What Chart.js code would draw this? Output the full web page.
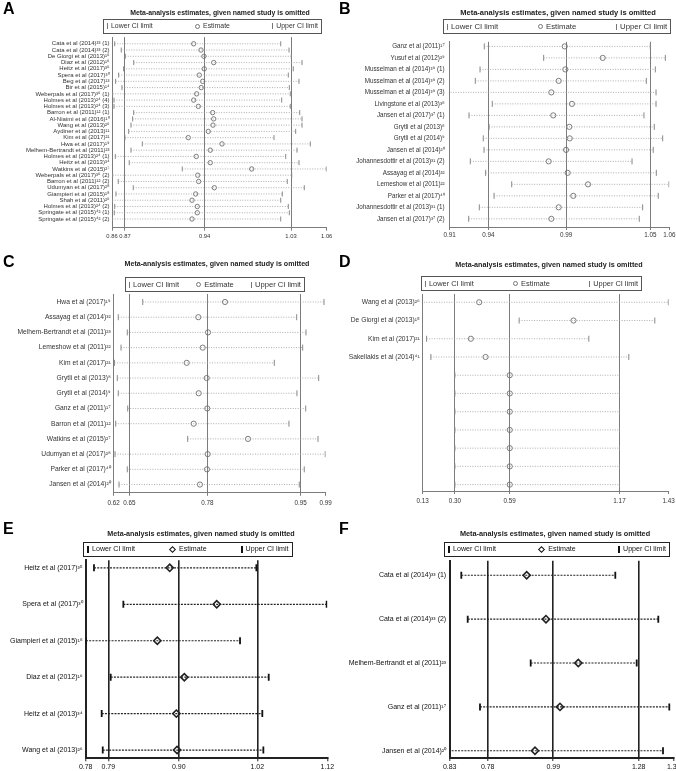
<!DOCTYPE html>
<html>
<head>
<meta charset="utf-8">
<script src="https://cdn.jsdelivr.net/npm/chart.js@4.4.1/dist/chart.umd.min.js"></script>
<style>
  body { margin: 0; background: #fff; }
  #page { position: relative; width: 676px; height: 771px; overflow: hidden; font-family: "Liberation Sans", Arial, sans-serif; }
  .letter { position: absolute; font-weight: bold; font-size: 16px; line-height: 1; color: #000; will-change: transform; }
  .title { position: absolute; width: 300px; text-align: center; font-weight: bold; line-height: 1; color: #222; white-space: nowrap; will-change: transform; }
  .legend { position: absolute; box-sizing: border-box; border: 1px solid #555; display: grid; grid-template-columns: 1fr 1fr 1fr; align-items: center; padding: 0 3px; color: #333; line-height: 1; white-space: nowrap; will-change: transform; }
  .legend .item:nth-child(1) { justify-self: start; }
  .legend .item:nth-child(2) { justify-self: center; }
  .legend .item:nth-child(3) { justify-self: end; }
  .key { display: inline-block; vertical-align: middle; margin-right: 3px; box-sizing: border-box; }
  .grey .bar { width: 1px; height: 6px; background: #777; }
  .grey .dot { width: 5px; height: 5px; border: 1px solid #777; border-radius: 50%; }
  .bold .bar { width: 2px; height: 7px; background: #111; }
  .bold .dot { width: 5px; height: 5px; border: 1.5px solid #111; transform: rotate(45deg); margin-left: 1px; margin-right: 4px; }
  .bold { color: #111; border-color: #222; }
  canvas { position: absolute; }
</style>
</head>
<body>
<div id="page"></div>
<script>
// ---- data: panel A ----
const studiesA = ['Cata et al (2014)³³ (1)', 'Cata et al (2014)³³ (2)', 'De Giorgi et al (2013)¹⁵', 'Diaz et al (2012)¹⁶',
  'Heitz et al (2017)³⁵', 'Spera et al (2017)³⁰', 'Beg et al (2017)¹³', 'Bir et al (2015)¹⁴',
  'Weberpals et al (2017)³⁶ (1)', 'Holmes et al (2013)²⁴ (4)', 'Holmes et al (2013)²⁴ (3)', 'Barron et al (2011)¹² (1)',
  'Al-Niaimi et al (2016)¹⁰', 'Wang et al (2013)²⁶', 'Aydiner et al (2013)¹¹', 'Kim et al (2017)²¹',
  'Hwa et al (2017)¹⁹', 'Melhem-Bertrandt et al (2011)²³', 'Holmes et al (2013)²⁴ (1)', 'Heitz et al (2013)³⁴',
  'Watkins et al (2015)²⁷', 'Weberpals et al (2017)³⁶ (2)', 'Barron et al (2011)¹² (2)', 'Udumyan et al (2017)²⁸',
  'Giampieri et al (2015)¹⁸', 'Shah et al (2011)²⁵', 'Holmes et al (2013)²⁴ (2)', 'Springate et al (2015)⁴² (1)',
  'Springate et al (2015)⁴² (2)'];
const lowerA = [0.8621, 0.8684, 0.8723, 0.8804, 0.8707, 0.8659, 0.8630, 0.8691, 0.8601, 0.8614, 0.8614, 0.8804,
  0.8794, 0.8778, 0.8756, 0.8720, 0.8887, 0.8778, 0.8627, 0.8761, 0.9272, 0.8601, 0.8655, 0.8800, 0.8633, 0.8598,
  0.8621, 0.8617, 0.8598];
const estimateA = [0.9382, 0.9453, 0.9481, 0.9575, 0.9484, 0.9436, 0.9469, 0.9455, 0.9411, 0.9382, 0.9427, 0.9565,
  0.9575, 0.9568, 0.9523, 0.9330, 0.9655, 0.9542, 0.9407, 0.9542, 0.9941, 0.9421, 0.9430, 0.9581, 0.9401, 0.9366,
  0.9417, 0.9417, 0.9366];
const upperA = [1.0221, 1.0301, 1.0323, 1.0426, 1.0342, 1.0294, 1.0397, 1.0304, 1.0313, 1.0230, 1.0313, 1.0404,
  1.0426, 1.0426, 1.0365, 1.0156, 1.0506, 1.0378, 1.0269, 1.0397, 1.0660, 1.0327, 1.0284, 1.0448, 1.0236, 1.0221,
  1.0294, 1.0304, 1.0221];
const xTicksA = [0.8595, 0.872, 0.9488, 1.032, 1.0664];
const xLabelsA = ['0.86', '0.87', '0.94', '1.03', '1.06'];

// ---- panel B ----
const studiesB = ['Ganz et al (2011)¹⁷', 'Yusuf et al (2012)²⁹', 'Musselman et al (2014)³⁹ (1)', 'Musselman et al (2014)³⁹ (2)',
  'Musselman et al (2014)³⁹ (3)', 'Livingstone et al (2013)³⁸', 'Jansen et al (2017)³⁷ (1)', 'Grytli et al (2013)⁸',
  'Grytli et al (2014)⁹', 'Jansen et al (2014)²⁰', 'Johannesdottir et al (2013)³¹ (2)', 'Assayag et al (2014)³²',
  'Lemeshow et al (2011)²²', 'Parker et al (2017)⁴⁰', 'Johannesdottir et al (2013)³¹ (1)', 'Jansen et al (2017)³⁷ (2)'];
const lowerB = [0.9373, 0.9776, 0.9344, 0.9312, 0.9110, 0.9427, 0.9269, 0.9405, 0.9366, 0.9371, 0.9278, 0.9382,
  0.9559, 0.9439, 0.9339, 0.9267];
const estimateB = [0.9919, 1.0177, 0.9923, 0.9878, 0.9828, 0.9968, 0.9841, 0.9950, 0.9953, 0.9928, 0.9810, 0.9939,
  1.0077, 0.9977, 0.9878, 0.9828];
const upperB = [1.0500, 1.0602, 1.0534, 1.0473, 1.0539, 1.0539, 1.0457, 1.0527, 1.0584, 1.0520, 1.0376, 1.0541,
  1.0627, 1.0554, 1.0448, 1.0425];
const xTicksB = [0.9138, 0.94, 0.9928, 1.05, 1.0629];
const xLabelsB = ['0.91', '0.94', '0.99', '1.05', '1.06'];

// ---- panel C ----
const studiesC = ['Hwa et al (2017)¹⁹', 'Assayag et al (2014)³²', 'Melhem-Bertrandt et al (2011)²³', 'Lemeshow et al (2011)²²',
  'Kim et al (2017)²¹', 'Grytli et al (2013)⁸', 'Grytli et al (2014)⁹', 'Ganz et al (2011)¹⁷', 'Barron et al (2011)¹²',
  'Watkins et al (2015)²⁷', 'Udumyan et al (2017)²⁸', 'Parker et al (2017)⁴⁰', 'Jansen et al (2014)²⁰'];
const lowerC = [0.6735, 0.6307, 0.6465, 0.6355, 0.6240, 0.6290, 0.6307, 0.6472, 0.6262, 0.7522, 0.6250, 0.6465, 0.6320];
const estimateC = [0.8175, 0.7708, 0.7878, 0.7785, 0.7505, 0.7855, 0.7715, 0.7865, 0.7627, 0.8578, 0.7872, 0.7860, 0.7737];
const upperC = [0.9908, 0.9430, 0.9593, 0.9535, 0.9038, 0.9815, 0.9435, 0.9588, 0.9295, 0.9803, 0.9930, 0.9563, 0.9475];
const xTicksC = [0.6227, 0.65, 0.7865, 0.95, 0.9938];
const xLabelsC = ['0.62', '0.65', '0.78', '0.95', '0.99'];

// ---- panel D ----
const studiesD = ['Wang et al (2013)²⁶', 'De Giorgi et al (2013)¹⁵', 'Kim et al (2017)²¹', 'Sakellakis et al (2014)⁴¹',
  '', '', '', '', '', '', ''];
const lowerD = [0.11, 0.6397, 0.1505, 0.1732, 0.30, 0.30, 0.30, 0.30, 0.30, 0.30, 0.30];
const estimateD = [0.4284, 0.9270, 0.3845, 0.4622, 0.59, 0.59, 0.59, 0.59, 0.59, 0.59, 0.59];
const upperD = [1.428, 1.3565, 1.0079, 1.2192, 1.17, 1.17, 1.17, 1.17, 1.17, 1.17, 1.17];
const xTicksD = [0.13, 0.30, 0.59, 1.17, 1.43];
const xLabelsD = ['0.13', '0.30', '0.59', '1.17', '1.43'];

// ---- panel E ----
const studiesE = ['Heitz et al (2017)³⁵', 'Spera et al (2017)³⁰', 'Giampieri et al (2015)¹⁸', 'Diaz et al (2012)¹⁶',
  'Heitz et al (2013)³⁴', 'Wang et al (2013)²⁶'];
const lowerE = [0.7679, 0.8132, 0.7555, 0.7937, 0.7798, 0.7814];
const estimateE = [0.8848, 0.9573, 0.8656, 0.9073, 0.8950, 0.8961];
const upperE = [1.0185, 1.1270, 0.9933, 1.0376, 1.0277, 1.0293];
const xTicksE = [0.7551, 0.79, 0.8987, 1.02, 1.128];
const xLabelsE = ['0.78', '0.79', '0.90', '1.02', '1.12'];

// ---- panel F ----
const studiesF = ['Cata et al (2014)³³ (1)', 'Cata et al (2014)³³ (2)', 'Melhem-Bertrandt et al (2011)²³',
  'Ganz et al (2011)¹⁷', 'Jansen et al (2014)²⁰'];
const lowerF = [0.6926, 0.7138, 0.9224, 0.7545, 0.6500];
const estimateF = [0.9091, 0.9730, 1.0800, 1.0194, 0.9366];
const upperF = [1.2025, 1.3449, 1.2734, 1.3813, 1.3605];
const xTicksF = [0.6542, 0.78, 0.997, 1.28, 1.3959];
const xLabelsF = ['0.83', '0.78', '0.99', '1.28', '1.39'];

const titleText = 'Meta-analysis estimates, given named study is omitted';

const styles = {
  grey: { ref: '#7c7c7c', refW: 1, axis: '#7c7c7c', axisW: 1, ci: '#9a9a9a', ciW: 0.8, dash: [1, 1.5],
          bar: '#888', barW: 1, est: '#6e6e6e', estW: 0.9, estStyle: 'circle', text: '#333' },
  bold: { ref: '#222', refW: 1.6, axis: '#222', axisW: 2, ci: '#222', ciW: 1.2, dash: [2, 1.2],
          bar: '#111', barW: 1.8, est: '#222', estW: 1.6, estStyle: 'rectRot', text: '#111' }
};

const panels = [
  { id: 'A', studies: studiesA, lower: lowerA, est: estimateA, upper: upperA, xTicks: xTicksA, xLabels: xLabelsA,
    style: 'grey', letterX: 3, letterY: 1, titleX: 220, titleY: 13, titleSize: 6.9, legend: [103, 19, 219, 15], legendSize: 6.9,
    panelLeft: 0, plotLeft: 112, plotRight: 326.7, plotTop: 37, plotBottom: 227.7, firstRow: 43.7, lastRow: 219,
    yFont: 6, xFont: 5.8, xPad: 1.8, yPad: 2.5, barR: 2.5, estR: 2.2 },
  { id: 'B', studies: studiesB, lower: lowerB, est: estimateB, upper: upperB, xTicks: xTicksB, xLabels: xLabelsB,
    style: 'grey', letterX: 339, letterY: 1, titleX: 558, titleY: 13, titleSize: 7.5, legend: [442.7, 19, 228.3, 15.3], legendSize: 7.8,
    panelLeft: 338, plotLeft: 449.7, plotRight: 669.3, plotTop: 39.3, plotBottom: 227.3, firstRow: 44, lastRow: 219,
    yFont: 6.3, xFont: 6.3, xPad: 1.5, yPad: 5, barR: 3, estR: 2.6 },
  { id: 'C', studies: studiesC, lower: lowerC, est: estimateC, upper: upperC, xTicks: xTicksC, xLabels: xLabelsC,
    style: 'grey', letterX: 3, letterY: 254, titleX: 216.5, titleY: 265, titleSize: 7.1, legend: [125, 276.7, 180, 15], legendSize: 7.6,
    panelLeft: 0, plotLeft: 113.7, plotRight: 325.7, plotTop: 292.5, plotBottom: 492.3, firstRow: 300.5, lastRow: 484,
    yFont: 6.7, xFont: 6.3, xPad: 3.2, yPad: 3, barR: 3, estR: 2.6 },
  { id: 'D', studies: studiesD, lower: lowerD, est: estimateD, upper: upperD, xTicks: xTicksD, xLabels: xLabelsD,
    style: 'grey', letterX: 339, letterY: 254, titleX: 549, titleY: 265, titleSize: 7.2, legend: [421, 276, 221, 15], legendSize: 7.4,
    panelLeft: 338, plotLeft: 422.7, plotRight: 668.7, plotTop: 292.7, plotBottom: 490.7, firstRow: 301, lastRow: 484.3,
    yFont: 6.7, xFont: 6.3, xPad: 3.2, yPad: 3, barR: 3, estR: 2.6 },
  { id: 'E', studies: studiesE, lower: lowerE, est: estimateE, upper: upperE, xTicks: xTicksE, xLabels: xLabelsE,
    style: 'bold', letterX: 3, letterY: 521, titleX: 201, titleY: 533.3, titleSize: 7.2, legend: [82.7, 541.7, 209.6, 15], legendSize: 7.1,
    panelLeft: 0, plotLeft: 85.7, plotRight: 327.3, plotTop: 559, plotBottom: 758.3, firstRow: 566.7, lastRow: 750,
    yFont: 7, xFont: 7, xPad: 1.8, yPad: 3, barR: 3.5, estR: 3.6 },
  { id: 'F', studies: studiesF, lower: lowerF, est: estimateF, upper: upperF, xTicks: xTicksF, xLabels: xLabelsF,
    style: 'bold', letterX: 339, letterY: 521, titleX: 555, titleY: 533.3, titleSize: 7.3, legend: [444.3, 541.7, 226, 15], legendSize: 7.1,
    panelLeft: 338, plotLeft: 449.7, plotRight: 673.7, plotTop: 559.3, plotBottom: 758.3, firstRow: 574, lastRow: 751,
    yFont: 7, xFont: 7, xPad: 1.8, yPad: 3.5, barR: 3.5, estR: 3.6 }
];

const page = document.getElementById('page');
const FONT = '"Liberation Sans", Arial, sans-serif';

function addDiv(cls, css, html) {
  const d = document.createElement('div');
  d.className = cls;
  Object.assign(d.style, css);
  d.innerHTML = html;
  page.appendChild(d);
  return d;
}

function drawPanel(p) {
  const s = styles[p.style];

  addDiv('letter', { left: p.letterX + 'px', top: p.letterY + 'px' }, p.id);
  addDiv('title', { left: (p.titleX - 150) + 'px', top: (p.titleY - p.titleSize * 0.5) + 'px', fontSize: p.titleSize + 'px' }, titleText);
  const [lx, ly, lw, lh] = p.legend;
  addDiv('legend ' + p.style, { left: lx + 'px', top: ly + 'px', width: lw + 'px', height: lh + 'px', fontSize: p.legendSize + 'px' },
    '<span class="item"><span class="key bar"></span>Lower CI limit</span>' +
    '<span class="item"><span class="key dot"></span>Estimate</span>' +
    '<span class="item"><span class="key bar"></span>Upper CI limit</span>');

  const padTop = 6, padRight = 12, axisH = 16;
  const left = p.panelLeft;
  const top = p.plotTop - padTop;
  const width = Math.ceil(p.plotRight + padRight - left);
  const height = Math.ceil(p.plotBottom + axisH - top);
  const canvas = document.createElement('canvas');
  canvas.width = width;
  canvas.height = height;
  canvas.style.left = left + 'px';
  canvas.style.top = top + 'px';
  page.appendChild(canvas);

  const n = p.studies.length;
  const rows = p.studies.map((_, i) => i);
  const step = (p.lastRow - p.firstRow) / (n - 1);
  const yMin = -(p.firstRow - p.plotTop) / step;
  const yMax = (n - 1) + (p.plotBottom - p.lastRow) / step;
  const last = p.xTicks.length - 1;

  // one dotted segment per study, then the two CI end bars and the estimate markers
  const datasets = rows.map(i => ({
    data: [{ x: p.lower[i], y: i }, { x: p.upper[i], y: i }],
    showLine: true, borderColor: s.ci, borderWidth: s.ciW, borderDash: s.dash, pointRadius: 0
  }));
  datasets.push({
    data: rows.map(i => ({ x: p.lower[i], y: i })),
    pointStyle: 'line', pointRotation: 90, pointRadius: p.barR, pointBorderColor: s.bar, pointBorderWidth: s.barW
  });
  datasets.push({
    data: rows.map(i => ({ x: p.upper[i], y: i })),
    pointStyle: 'line', pointRotation: 90, pointRadius: p.barR, pointBorderColor: s.bar, pointBorderWidth: s.barW
  });
  datasets.push({
    data: rows.map(i => ({ x: p.est[i], y: i })),
    pointStyle: s.estStyle, pointRadius: p.estR, pointBorderColor: s.est, pointBorderWidth: s.estW,
    pointBackgroundColor: 'rgba(0,0,0,0)'
  });

  new Chart(canvas.getContext('2d'), {
    type: 'scatter',
    data: { datasets: datasets },
    options: {
      responsive: false,
      animation: false,
      events: [],
      layout: { padding: { top: padTop, right: width - (p.plotRight - left), left: 0, bottom: height - (p.plotBottom + axisH - top) } },
      plugins: { legend: { display: false }, tooltip: { enabled: false } },
      scales: {
        x: {
          type: 'linear', min: p.xTicks[0], max: p.xTicks[last],
          afterBuildTicks: sc => { sc.ticks = p.xTicks.map(v => ({ value: v })); },
          afterFit: sc => { sc.height = axisH; },
          ticks: { callback: (v, i) => p.xLabels[i], autoSkip: false, maxRotation: 0, padding: p.xPad,
                   color: s.text, font: { family: FONT, size: p.xFont } },
          grid: {
            color: ctx => (ctx.index === 0 || ctx.index === last) ? 'rgba(0,0,0,0)' : s.ref,
            lineWidth: s.refW, tickColor: s.axis, tickLength: 3, tickWidth: 1
          },
          border: { color: s.axis, width: s.axisW }
        },
        y: {
          type: 'linear', reverse: true, min: yMin, max: yMax,
          afterBuildTicks: sc => { sc.ticks = rows.map(i => ({ value: i })); },
          afterFit: sc => { sc.width = p.plotLeft - left; },
          ticks: { callback: v => p.studies[v] || '', autoSkip: false, padding: p.yPad,
                   color: s.text, font: { family: FONT, size: p.yFont } },
          grid: { display: true, drawOnChartArea: false, drawTicks: false },
          border: { color: s.axis, width: s.axisW }
        }
      }
    }
  });
}

panels.forEach(drawPanel);
</script>
</body>
</html>
